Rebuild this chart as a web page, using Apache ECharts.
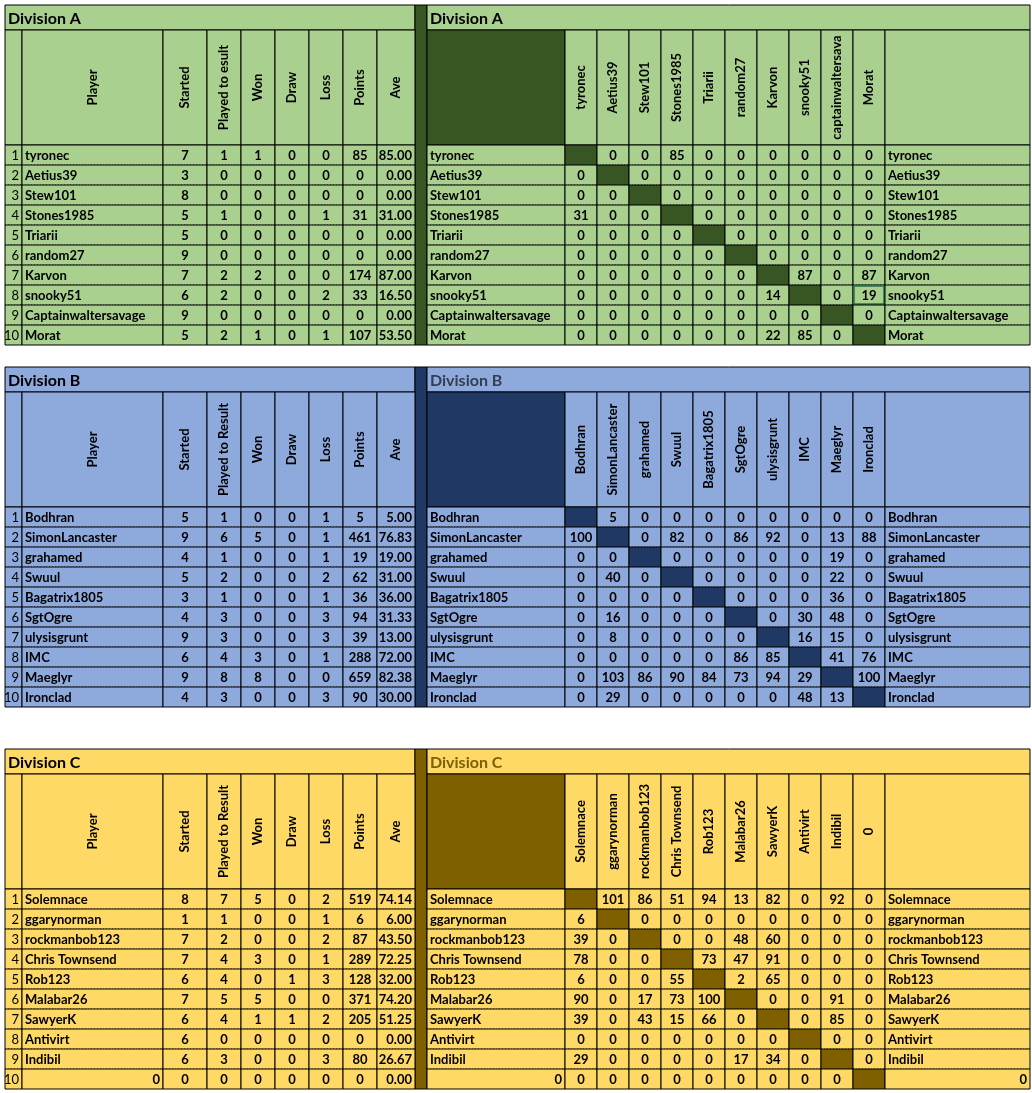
<!DOCTYPE html>
<html><head><meta charset="utf-8">
<script src="https://cdn.jsdelivr.net/npm/echarts@6/dist/echarts.min.js"></script>
<style>html,body{margin:0;padding:0;background:#fff}#c{width:1032px;height:1093px}</style>
</head><body><div id="c"></div>
<script>
// ---------- DATA ----------
const statHeadersA = ["Started","Played to esult","Won","Draw","Loss","Points","Ave"];
const statHeadersBC = ["Started","Played to Result","Won","Draw","Loss","Points","Ave"];

const playersA = ["tyronec","Aetius39","Stew101","Stones1985","Triarii","random27","Karvon","snooky51","Captainwaltersavage","Morat"];
const matrixHeadA = ["tyronec","Aetius39","Stew101","Stones1985","Triarii","random27","Karvon","snooky51","captainwaltersavage","Morat"];
const statsA = [
 [7,1,1,0,0,85,"85.00"],[3,0,0,0,0,0,"0.00"],[8,0,0,0,0,0,"0.00"],[5,1,0,0,1,31,"31.00"],[5,0,0,0,0,0,"0.00"],
 [9,0,0,0,0,0,"0.00"],[7,2,2,0,0,174,"87.00"],[6,2,0,0,2,33,"16.50"],[9,0,0,0,0,0,"0.00"],[5,2,1,0,1,107,"53.50"]];
const matrixA = [
 [null,0,0,85,0,0,0,0,0,0],[0,null,0,0,0,0,0,0,0,0],[0,0,null,0,0,0,0,0,0,0],[31,0,0,null,0,0,0,0,0,0],
 [0,0,0,0,null,0,0,0,0,0],[0,0,0,0,0,null,0,0,0,0],[0,0,0,0,0,0,null,87,0,87],[0,0,0,0,0,0,14,null,0,19],
 [0,0,0,0,0,0,0,0,null,0],[0,0,0,0,0,0,22,85,0,null]];

const playersB = ["Bodhran","SimonLancaster","grahamed","Swuul","Bagatrix1805","SgtOgre","ulysisgrunt","IMC","Maeglyr","Ironclad"];
const statsB = [
 [5,1,0,0,1,5,"5.00"],[9,6,5,0,1,461,"76.83"],[4,1,0,0,1,19,"19.00"],[5,2,0,0,2,62,"31.00"],[3,1,0,0,1,36,"36.00"],
 [4,3,0,0,3,94,"31.33"],[9,3,0,0,3,39,"13.00"],[6,4,3,0,1,288,"72.00"],[9,8,8,0,0,659,"82.38"],[4,3,0,0,3,90,"30.00"]];
const matrixB = [
 [null,5,0,0,0,0,0,0,0,0],[100,null,0,82,0,86,92,0,13,88],[0,0,null,0,0,0,0,0,19,0],[0,40,0,null,0,0,0,0,22,0],
 [0,0,0,0,null,0,0,0,36,0],[0,16,0,0,0,null,0,30,48,0],[0,8,0,0,0,0,null,16,15,0],[0,0,0,0,0,86,85,null,41,76],
 [0,103,86,90,84,73,94,29,null,100],[0,29,0,0,0,0,0,48,13,null]];

const playersC = ["Solemnace","ggarynorman","rockmanbob123","Chris Townsend","Rob123","Malabar26","SawyerK","Antivirt","Indibil","0"];
const matrixHeadC = ["Solemnace","ggarynorman","rockmanbob123","Chris Townsend","Rob123","Malabar26","SawyerK","Antivirt","Indibil","0"];
const statsC = [
 [8,7,5,0,2,519,"74.14"],[1,1,0,0,1,6,"6.00"],[7,2,0,0,2,87,"43.50"],[7,4,3,0,1,289,"72.25"],[6,4,0,1,3,128,"32.00"],
 [7,5,5,0,0,371,"74.20"],[6,4,1,1,2,205,"51.25"],[6,0,0,0,0,0,"0.00"],[6,3,0,0,3,80,"26.67"],[0,0,0,0,0,0,"0.00"]];
const matrixC = [
 [null,101,86,51,94,13,82,0,92,0],[6,null,0,0,0,0,0,0,0,0],[39,0,null,0,0,48,60,0,0,0],[78,0,0,null,73,47,91,0,0,0],
 [6,0,0,55,null,2,65,0,0,0],[90,0,17,73,100,null,0,0,91,0],[39,0,43,15,66,0,null,0,85,0],[0,0,0,0,0,0,0,null,0,0],
 [29,0,0,0,0,17,34,0,null,0],[0,0,0,0,0,0,0,0,0,null]];

// ---------- LAYOUT ----------
const statCols = [[163,207],[207,241],[241,275],[275,309],[309,343],[343,377],[377,415]];
const FONT = "Lato, 'Noto Sans', sans-serif";
const cells = [];
function add(c){ cells.push(c); }

function block(top, title, players, mHead, stats, matrix, sHead, bg, dark, rTitleCol, zeroRow) {
  const tB = top+25, hB = top+140, end = top+340;
  add({x0:5,x1:415,y0:top,y1:tB,t:title,fill:bg,al:'left',size:16,solid:true});
  add({x0:415,x1:427,y0:top,y1:end,t:'',fill:dark,solid:true});
  add({x0:427,x1:1030,y0:top,y1:tB,t:title,fill:bg,al:'left',size:16,col:rTitleCol,solid:true});
  // header
  add({x0:5,x1:22,y0:tB,y1:hB,t:'',fill:bg,solid:true});
  add({x0:22,x1:163,y0:tB,y1:hB,t:'Player',fill:bg,rot:true,solid:true});
  sHead.forEach((h,i)=>add({x0:statCols[i][0],x1:statCols[i][1],y0:tB,y1:hB,t:h,fill:bg,rot:true,solid:true}));
  add({x0:427,x1:565,y0:tB,y1:hB,t:'',fill:dark,solid:true});
  mHead.forEach((h,i)=>add({x0:565+32*i,x1:597+32*i,y0:tB,y1:hB,t:h,fill:bg,rot:true,solid:true}));
  add({x0:885,x1:1030,y0:tB,y1:hB,t:'',fill:bg,solid:true});
  // rows
  players.forEach((p,r)=>{
    const y0=hB+20*r, y1=y0+20, last = r===9;
    const isZero = zeroRow && r===9;
    add({x0:5,x1:22,y0,y1,t:String(r+1),fill:bg,al:'right',bold:false,solid:last});
    add({x0:22,x1:163,y0,y1,t:p,fill:bg,al:isZero?'right':'left',solid:last});
    stats[r].forEach((v,i)=>add({x0:statCols[i][0],x1:statCols[i][1],y0,y1,t:String(v),fill:bg,al:i===6?'right':'center',solid:last}));
    add({x0:427,x1:565,y0,y1,t:p,fill:bg,al:isZero?'right':'left',solid:last});
    matrix[r].forEach((v,i)=>add({x0:565+32*i,x1:597+32*i,y0,y1,t:v===null?'':String(v),fill:v===null?dark:bg,solid:last,
      hl:(title==='Division A'&&r===7&&i===9)}));
    add({x0:885,x1:1030,y0,y1,t:p,fill:bg,al:isZero?'right':'left',solid:last});
  });
}
block(5,'Division A',playersA,matrixHeadA,statsA,matrixA,statHeadersA,'#a9d08e','#375623','#000',false);
block(367,'Division B',playersB,playersB,statsB,matrixB,statHeadersBC,'#8ea9db','#203864','#333f50',false);
block(749,'Division C',playersC,matrixHeadC,statsC,matrixC,statHeadersBC,'#ffd966','#7f6000','#7f6000',true);

const chart = echarts.init(document.getElementById('c'));
chart.setOption({
  animation:false,
  grid:{left:0,right:0,top:0,bottom:0},
  xAxis:{type:'value',min:0,max:1032,show:false},
  yAxis:{type:'value',min:0,max:1093,inverse:true,show:false},
  series:[{
    type:'custom',
    data: cells.map((c,i)=>[(c.x0+c.x1)/2,(c.y0+c.y1)/2,i]),
    encode:{x:0,y:1},
    renderItem:function(params,api){
      const c = cells[api.value(2)];
      const a = api.coord([c.x0,c.y0]), b = api.coord([c.x1,c.y1]);
      const w=b[0]-a[0], h=b[1]-a[1];
      const ch = [{type:'rect',shape:{x:a[0],y:a[1],width:w,height:h},style:{fill:c.fill,stroke:null}}];
      const ls = {stroke:'#000',lineWidth:1};
      ch.push({type:'line',shape:{x1:a[0],y1:a[1],x2:a[0],y2:b[1]},style:ls});
      ch.push({type:'line',shape:{x1:b[0],y1:a[1],x2:b[0],y2:b[1]},style:ls});
      ch.push({type:'line',shape:{x1:a[0],y1:a[1],x2:b[0],y2:a[1]},style:ls});
      ch.push({type:'line',shape:{x1:a[0],y1:b[1],x2:b[0],y2:b[1]},style:c.solid?ls:{stroke:'#222',lineWidth:1,lineDash:[1,2]}});
      if(c.hl) ch.push({type:'rect',shape:{x:a[0]+1,y:a[1]+1,width:w-2,height:h-2},style:{fill:null,stroke:'#217346',lineWidth:1.5}});
      if(c.t!==''){
        const font = (c.bold===false?'normal ':'bold ')+(c.size||13)+'px '+FONT;
        if(c.rot){
          ch.push({type:'text',x:(a[0]+b[0])/2,y:(a[1]+b[1])/2,rotation:Math.PI/2,
            style:{text:c.t,font,fill:c.col||'#000',align:'center',verticalAlign:'middle',width:h-4,overflow:'truncate',ellipsis:''}});
        } else {
          const al=c.al||'center';
          const x = al==='left'?a[0]+3:al==='right'?b[0]-3:(a[0]+b[0])/2;
          ch.push({type:'text',x,y:(a[1]+b[1])/2+1,style:{text:c.t,font,fill:c.col||'#000',align:al,verticalAlign:'middle'}});
        }
      }
      return {type:'group',children:ch};
    }
  }]
});
</script></body></html>
